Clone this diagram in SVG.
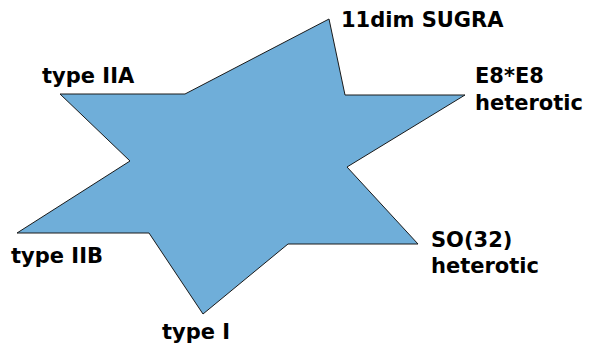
<svg xmlns="http://www.w3.org/2000/svg" width="593" height="351" viewBox="0 0 593 351">
<style>
.lbl{font-family:"DejaVu Sans","Liberation Sans",sans-serif;font-weight:bold;font-size:21px;fill:#000}
.star{fill:#6faed9;stroke:#1a1a1a;stroke-width:1}
</style>
<rect width="593" height="351" fill="#fff"/>
<g id="star">
<polygon class="star" points="329,19 345,95 465,95 347,167 418,244 288,244 203,314 149,233 17,233 130,161 60,94 185,94"/>
</g>
<g id="connectors"/>
<g id="sugra"><text class="lbl" x="341" y="27">11dim SUGRA</text></g>
<g id="e8"><text class="lbl" x="475" y="83">E8*E8</text><text class="lbl" x="475" y="110">heterotic</text></g>
<g id="iia"><text class="lbl" x="42" y="83">type IIA</text></g>
<g id="iib"><text class="lbl" x="11" y="263">type IIB</text></g>
<g id="so32"><text class="lbl" x="431" y="247">SO(32)</text><text class="lbl" x="431" y="273">heterotic</text></g>
<g id="typei"><text class="lbl" x="162" y="339">type I</text></g>
</svg>
